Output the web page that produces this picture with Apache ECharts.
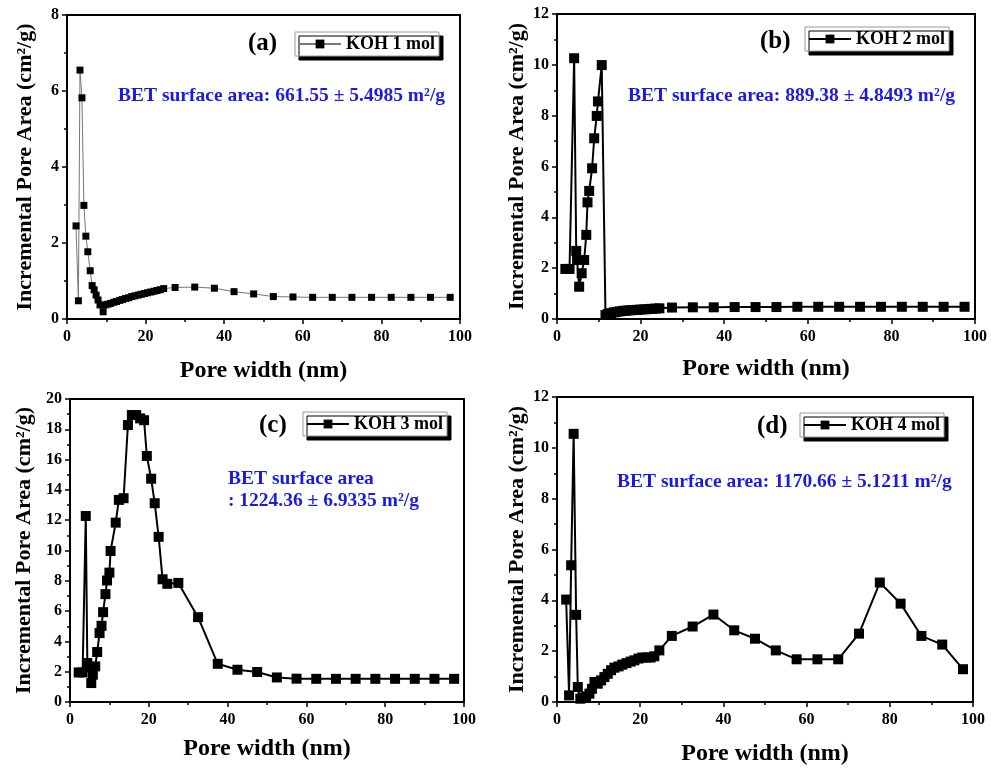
<!DOCTYPE html>
<html>
<head>
<meta charset="utf-8">
<script src="https://cdn.jsdelivr.net/npm/echarts@6/dist/echarts.min.js"></script>
<style>
  html, body { margin: 0; padding: 0; background: #fff; }
  #main { width: 991px; height: 769px; }
</style>
</head>
<body>
<div id="main"></div>
<script>
// pore width (nm) / incremental pore area (cm2/g), one pair per sample
let poreA = [2.3, 2.9, 3.3, 3.8, 4.3, 4.8, 5.3, 5.9, 6.4, 6.9, 7.4, 7.9, 8.4, 9.2, 9.7,
  10.4, 11.1, 11.9, 12.6, 13.4, 14.1, 14.9, 15.7, 16.5, 17.3, 18.1, 18.9, 19.7, 20.5,
  21.3, 22.1, 22.9, 23.7, 24.6, 27.5, 32.5, 37.5, 42.5, 47.5, 52.5, 57.5, 62.5, 67.5,
  72.5, 77.5, 82.5, 87.5, 92.5, 97.5];
let areaA = [2.45, 0.48, 6.55, 5.82, 2.99, 2.18, 1.77, 1.27, 0.88, 0.77, 0.63, 0.50, 0.37, 0.19, 0.37,
  0.39, 0.41, 0.44, 0.46, 0.49, 0.51, 0.54, 0.56, 0.59, 0.61, 0.63, 0.65, 0.67, 0.69,
  0.71, 0.73, 0.75, 0.77, 0.80, 0.83, 0.84, 0.81, 0.72, 0.66, 0.59, 0.58, 0.57, 0.57,
  0.57, 0.57, 0.57, 0.57, 0.57, 0.57];

let poreB = [2.0, 3.0, 4.1, 4.6, 4.8, 5.3, 5.9, 6.5, 7.0, 7.3, 7.7, 8.4, 8.9, 9.5, 9.8, 10.7,
  11.6, 12.2, 12.9, 13.6, 14.3, 15.0, 15.8, 16.6, 17.4, 18.2, 19.1, 20.0, 20.9, 21.8, 22.7,
  23.6, 24.5, 27.5, 32.5, 37.5, 42.5, 47.5, 52.5, 57.5, 62.5, 67.5, 72.5, 77.5, 82.5, 87.5,
  92.5, 97.5];
let areaB = [1.97, 1.97, 10.26, 2.68, 2.32, 1.27, 1.80, 2.32, 3.31, 4.59, 5.04, 5.93, 7.11, 7.99, 8.56, 9.99,
  0.16, 0.20, 0.23, 0.26, 0.28, 0.30, 0.32, 0.33, 0.34, 0.35, 0.36, 0.37, 0.38, 0.39, 0.40,
  0.41, 0.42, 0.45, 0.46, 0.46, 0.47, 0.47, 0.47, 0.48, 0.48, 0.48, 0.48, 0.48, 0.48, 0.48,
  0.48, 0.48];

let poreC = [2.2, 3.2, 4.0, 4.4, 4.7, 5.4, 5.8, 6.4, 6.9, 7.5, 8.0, 8.4, 9.0, 9.4, 10.0, 10.3,
  11.6, 12.4, 13.6, 14.7, 15.7, 16.8, 17.8, 18.8, 19.5, 20.6, 21.5, 22.5, 23.5, 24.7, 27.5,
  32.5, 37.5, 42.5, 47.5, 52.5, 57.5, 62.5, 67.5, 72.5, 77.5, 82.5, 87.5, 92.5, 97.5];
let areaC = [1.95, 1.95, 12.28, 2.57, 2.30, 1.25, 1.80, 2.35, 3.30, 4.55, 5.03, 5.93, 7.12, 8.02, 8.54, 9.97,
  11.84, 13.34, 13.45, 18.28, 18.94, 18.94, 18.72, 18.60, 16.24, 14.74, 13.12, 10.90, 8.10, 7.80, 7.86,
  5.60, 2.52, 2.13, 1.98, 1.62, 1.54, 1.53, 1.53, 1.53, 1.53, 1.53, 1.53, 1.53, 1.53];

let poreD = [2.2, 2.9, 3.4, 4.0, 4.6, 5.0, 5.6, 6.1, 7.0, 7.8, 8.4, 9.0, 9.8, 10.6, 11.4, 12.2,
  13.0, 13.8, 14.8, 15.7, 16.7, 17.7, 18.6, 19.6, 20.5, 21.5, 22.5, 23.4, 24.6, 27.6, 32.6,
  37.6, 42.6, 47.6, 52.6, 57.6, 62.6, 67.6, 72.6, 77.6, 82.6, 87.6, 92.6, 97.6];
let areaD = [4.03, 0.26, 5.38, 10.55, 3.43, 0.59, 0.13, 0.17, 0.22, 0.33, 0.52, 0.79, 0.72, 0.85, 0.98, 1.11,
  1.25, 1.35, 1.40, 1.47, 1.53, 1.59, 1.64, 1.71, 1.75, 1.75, 1.75, 1.80, 2.03, 2.60, 2.97,
  3.44, 2.82, 2.49, 2.03, 1.68, 1.68, 1.68, 2.69, 4.70, 3.87, 2.60, 2.26, 1.29];

let names = ['KOH 1 mol', 'KOH 2 mol', 'KOH 3 mol', 'KOH 4 mol'];
let yMax = [8, 12, 20, 12];
let xTicks = [0, 20, 40, 60, 80, 100];

let serif = '"Liberation Serif", "Times New Roman", serif';
let blue = '#1a1ae8';

let myChart = echarts.init(document.getElementById('main'));

let grids = [
  { left: 67, top: 15, width: 393, height: 304 },
  { left: 557, top: 14, width: 418, height: 305 },
  { left: 70, top: 399, width: 394, height: 303 },
  { left: 557, top: 397, width: 416, height: 305 }
];
let xNameGap = [40, 38, 35, 40];
let yNameGap = [31, 29, 35, 29];
let legendPos = [[295, 32], [805, 27], [303, 412], [800, 413]];

function zip(xs, ys) {
  return xs.map(function (x, i) { return [x, ys[i]]; });
}
let allData = [zip(poreA, areaA), zip(poreB, areaB), zip(poreC, areaC), zip(poreD, areaD)];

let tickStyle = { color: '#000', width: 1.5 };

let option = {
  animation: false,
  backgroundColor: '#fff',
  grid: grids.map(function (g) {
    return Object.assign({ show: true, borderColor: '#000', borderWidth: 2, backgroundColor: 'transparent' }, g);
  }),
  xAxis: grids.map(function (g, i) {
    return {
      gridIndex: i,
      type: 'value',
      min: xTicks[0],
      max: xTicks[xTicks.length - 1],
      interval: 20,
      name: 'Pore width (nm)',
      nameLocation: 'middle',
      nameGap: xNameGap[i],
      nameTextStyle: { fontFamily: serif, fontWeight: 'bold', fontSize: 24, color: '#000' },
      axisLine: { lineStyle: { color: '#000', width: 2 } },
      axisTick: { show: true, length: 5, lineStyle: tickStyle },
      minorTick: { show: true, splitNumber: 2, length: 3, lineStyle: tickStyle },
      axisLabel: { fontFamily: serif, fontWeight: 'bold', fontSize: 16, color: '#000', margin: 10 },
      splitLine: { show: false }
    };
  }),
  yAxis: grids.map(function (g, i) {
    return {
      gridIndex: i,
      type: 'value',
      min: 0,
      max: yMax[i],
      interval: 2,
      name: 'Incremental Pore Area (cm²/g)',
      nameLocation: 'middle',
      nameGap: yNameGap[i],
      nameTextStyle: { fontFamily: serif, fontWeight: 'bold', fontSize: 22, color: '#000' },
      axisLine: { show: true, lineStyle: { color: '#000', width: 2 } },
      axisTick: { show: true, length: 5, lineStyle: tickStyle },
      minorTick: { show: true, splitNumber: 2, length: 3, lineStyle: tickStyle },
      axisLabel: { fontFamily: serif, fontWeight: 'bold', fontSize: 16, color: '#000', margin: 8 },
      splitLine: { show: false }
    };
  }),
  legend: names.map(function (n, i) {
    return {
      data: [n],
      left: legendPos[i][0],
      top: legendPos[i][1],
      padding: [3, 4, 3, 3],
      itemWidth: 42,
      itemHeight: 11,
      itemGap: 4,
      backgroundColor: '#fff',
      borderColor: '#999',
      borderWidth: 1,
      shadowColor: '#000',
      shadowBlur: 0,
      shadowOffsetX: 4,
      shadowOffsetY: 4,
      textStyle: { fontFamily: serif, fontWeight: 'bold', fontSize: 18, color: '#000' }
    };
  }),
  series: names.map(function (n, i) {
    let thin = i === 0;
    return {
      name: n,
      type: 'line',
      xAxisIndex: i,
      yAxisIndex: i,
      data: allData[i],
      symbol: 'rect',
      symbolSize: thin ? 7 : 10,
      showSymbol: true,
      lineStyle: { color: thin ? '#777' : '#000', width: thin ? 1 : 2 },
      itemStyle: { color: '#000' },
      emphasis: { disabled: true }
    };
  }),
  graphic: [
    { type: 'text', left: 248, top: 31, style: { text: '(a)', font: 'bold 25px ' + serif, fill: '#000' } },
    { type: 'text', left: 760, top: 29, style: { text: '(b)', font: 'bold 25px ' + serif, fill: '#000' } },
    { type: 'text', left: 259, top: 413, style: { text: '(c)', font: 'bold 25px ' + serif, fill: '#000' } },
    { type: 'text', left: 757, top: 414, style: { text: '(d)', font: 'bold 25px ' + serif, fill: '#000' } },
    { type: 'text', left: 118, top: 86, style: { text: 'BET surface area: 661.55 ± 5.4985 m²/g', font: 'bold 19.5px ' + serif, fill: blue } },
    { type: 'text', left: 628, top: 86, style: { text: 'BET surface area: 889.38 ± 4.8493 m²/g', font: 'bold 19.5px ' + serif, fill: blue } },
    { type: 'text', left: 228, top: 469, style: { text: 'BET surface area', font: 'bold 19.5px ' + serif, fill: blue } },
    { type: 'text', left: 228, top: 491, style: { text: ': 1224.36 ± 6.9335 m²/g', font: 'bold 19.5px ' + serif, fill: blue } },
    { type: 'text', left: 617, top: 472, style: { text: 'BET surface area: 1170.66 ± 5.1211 m²/g', font: 'bold 19.5px ' + serif, fill: blue } }
  ]
};

myChart.setOption(option);
</script>
</body>
</html>
